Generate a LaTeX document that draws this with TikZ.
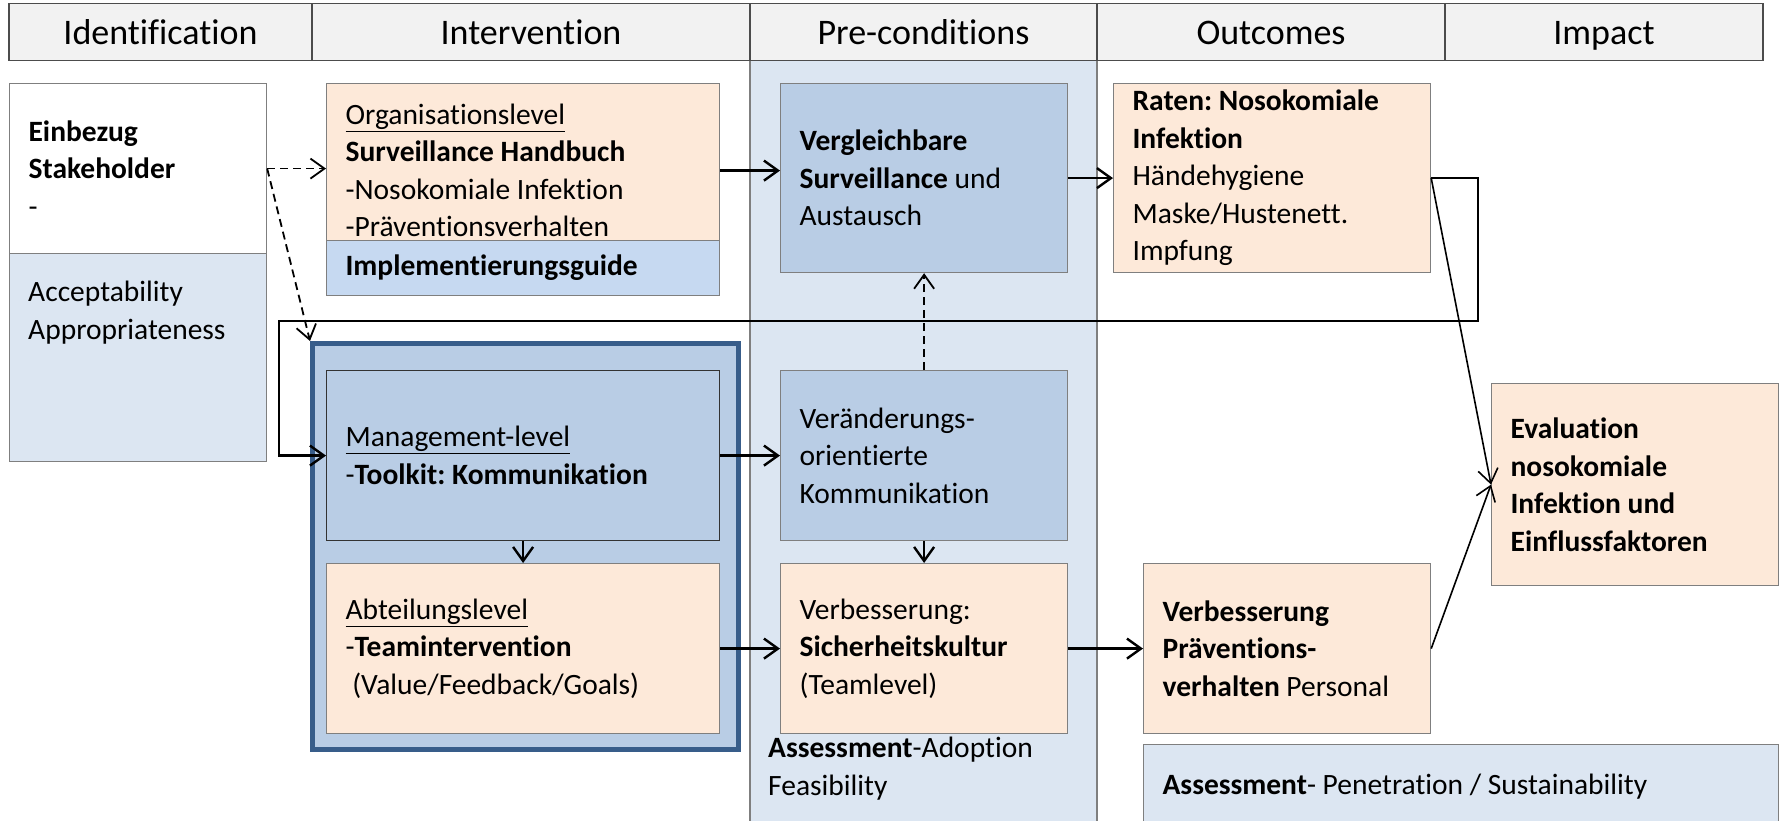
\documentclass[tikz,border=0pt]{standalone}
\usepackage{fontspec}
\setmainfont{Carlito}[Ligatures=NoCommon]
\frenchspacing
\usetikzlibrary{arrows.meta, positioning, calc}

\definecolor{hdrgray}{HTML}{F2F2F2}
\definecolor{peach}{HTML}{FDE9D9}
\definecolor{midblue}{HTML}{B9CDE5}
\definecolor{paleblue}{HTML}{DCE6F2}
\definecolor{guideblue}{HTML}{C6D9F1}
\definecolor{frameblue}{HTML}{385D8A}
\definecolor{edgegray}{HTML}{7F7F7F}

\begin{document}
\begin{tikzpicture}[x=1pt, y=-1pt,
  every node/.style={font=\fontsize{29.5}{37.5}\selectfont},
  hdr/.style={draw=black!70, line width=1.2pt, fill=hdrgray, minimum height=56.5pt,
    font=\fontsize{36}{40}\selectfont, text height=26pt, text depth=0pt},
  blk/.style={draw=edgegray, line width=1.2pt, anchor=north west, align=flush left,
    inner xsep=19pt, inner ysep=2pt},
  txt/.style={anchor=north west, align=flush left, inner sep=0pt},
  arr/.style={line width=2.4pt, -{Straight Barb[length=14pt,width=20pt]}},
  thinarr/.style={line width=1.6pt, -{Straight Barb[length=14pt,width=20pt]}},
  dasharr/.style={line width=1.8pt, dash pattern=on 8pt off 5pt,
    -{Straight Barb[length=14pt,width=20pt]}}]
  \useasboundingbox (0,0) rectangle (1787,821);
  \clip (0,0) rectangle (1787,821);

  % pre-conditions column
  \draw[edgegray, line width=1.2pt, fill=paleblue] (750,60) rectangle (1097,840);

  % header row
  \foreach \i/\xa/\xb/\t in {1/9/312/Identification, 2/312/750/Intervention,
      3/750/1097/Pre-conditions, 4/1097/1445/Outcomes, 5/1445/1763/Impact}{
    \node[hdr, minimum width={(\xb-\xa)*1pt}] (h\i) at ({(\xa+\xb)/2},32) {\t};
  }

  % identification
  \node[blk, fill=white, minimum width=257pt, minimum height=170pt, text width=219pt]
    (ident) at (9,83) {\textbf{Einbezug}\\\textbf{Stakeholder}\\-};
  \node[blk, fill=paleblue, minimum width=257pt, minimum height=208pt] (accept) at (9,253) {};
  \node[txt] (accepttxt) at (28,281) {Acceptability\\Appropriateness};

  % intervention
  \node[blk, fill=peach, minimum width=393pt, minimum height=174pt, text width=355pt]
    (org) at (326,83) {\underline{Organisationslevel}\\\textbf{Surveillance Handbuch}\\
      -Nosokomiale Infektion\\-Präventionsverhalten};
  \node[blk, fill=guideblue, minimum width=393pt, minimum height=55pt, text width=355pt]
    (guide) at (326,240) {\textbf{Implementierungsguide}};
  \node[blk, draw=frameblue, line width=5pt, fill=midblue, minimum width=426pt,
    minimum height=406pt] (team) at (310,341) {};
  \node[blk, draw=black!80, fill=midblue, minimum width=393pt, minimum height=170pt,
    text width=355pt] (mgmt) at (326,370)
    {\underline{Management-level}\\-\textbf{Toolkit: Kommunikation}};
  \node[blk, fill=peach, minimum width=393pt, minimum height=170pt, text width=355pt]
    (abt) at (326,563)
    {\underline{Abteilungslevel}\\-\textbf{Teamintervention}\\\ (Value/Feedback/Goals)};

  % pre-conditions
  \node[blk, fill=midblue, minimum width=287pt, minimum height=189pt, text width=249pt]
    (vergl) at (780,83) {\textbf{Vergleichbare}\\\textbf{Surveillance} und\\Austausch};
  \node[blk, fill=midblue, minimum width=287pt, minimum height=170pt, text width=249pt]
    (verand) at (780,370) {Veränderungs-\\orientierte\\Kommunikation};
  \node[blk, fill=peach, minimum width=287pt, minimum height=170pt, text width=249pt]
    (sicher) at (780,563) {Verbesserung:\\\textbf{Sicherheitskultur}\\(Teamlevel)};
  \node[txt] (adopt) at (768,737) {\textbf{Assessment}-Adoption\\Feasibility};

  % outcomes
  \node[blk, fill=peach, minimum width=317pt, minimum height=189pt, text width=279pt]
    (raten) at (1113,83) {\textbf{Raten: Nosokomiale}\\\textbf{Infektion}\\Händehygiene\\
      Maske/Hustenett.\\Impfung};
  \node[blk, fill=peach, minimum width=287pt, minimum height=170pt, text width=249pt]
    (praev) at (1143,563) {\textbf{Verbesserung}\\\textbf{Präventions-}\\
      \textbf{verhalten} Personal};
  \node[blk, fill=paleblue, minimum width=635pt, minimum height=84pt, text width=597pt]
    (assess) at (1143,744) {\textbf{Assessment}- Penetration / Sustainability};

  % impact
  \node[blk, fill=peach, minimum width=287pt, minimum height=202pt, text width=249pt]
    (eval) at (1491,383) {\textbf{Evaluation}\\\textbf{nosokomiale}\\
      \textbf{Infektion und}\\\textbf{Einflussfaktoren}};

  % connectors
  \draw[dasharr] (ident.east) -- (ident.east -| org.west);
  \draw[dasharr] (ident.east) -- (team.north west);
  \draw[arr] (org.east) -- (org.east -| vergl.west);
  \draw[arr] (vergl.east) -- (vergl.east -| raten.west);
  \draw[arr] (mgmt.east) -- (verand.west);
  \draw[arr] (mgmt.south) -- (abt.north);
  \draw[dasharr] (verand.north) -- (vergl.south);
  \draw[arr] (verand.south) -- (sicher.north);
  \draw[arr] (abt.east) -- (sicher.west);
  \draw[arr] (sicher.east) -- (praev.west);
  \coordinate (loop) at (279,321);
  \draw[arr] (raten.east) -- ++(47,0) |- (loop) |- (mgmt.west);
  \draw[thinarr] (raten.east) -- (eval.west);
  \draw[thinarr] (praev.east) -- (eval.west);
\end{tikzpicture}
\end{document}
